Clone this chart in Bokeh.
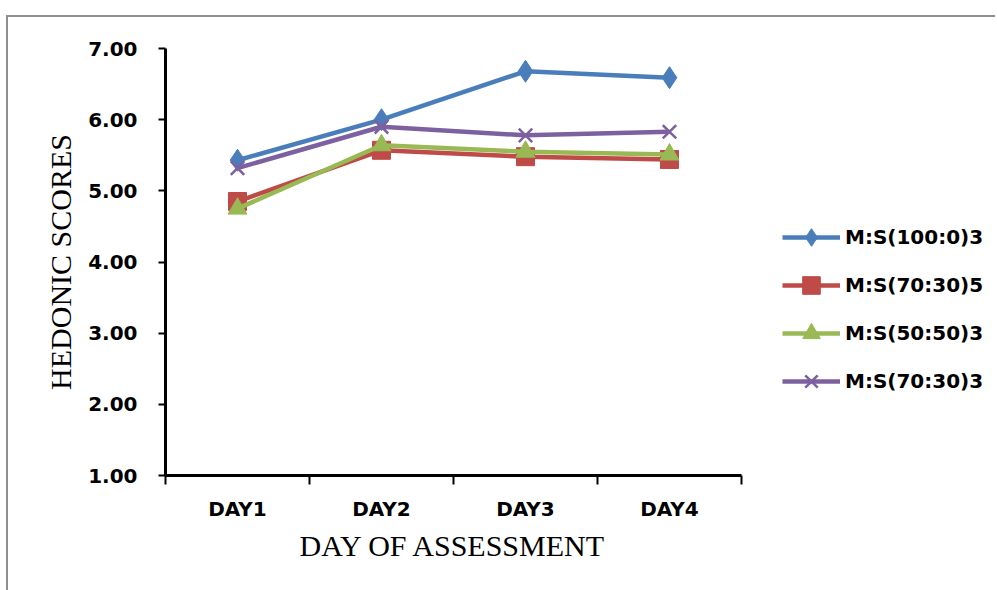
from bokeh.plotting import figure
from bokeh.models import FixedTicker, Legend, LegendItem, Range1d, ColumnDataSource, Title
from bokeh.embed import file_html
from bokeh.resources import INLINE

# Hedonic scores per day of assessment
days = ["DAY1", "DAY2", "DAY3", "DAY4"]
series_names = ["M:S(100:0)3", "M:S(70:30)5", "M:S(50:50)3", "M:S(70:30)3"]
ms_100_0_3 = [5.43, 6.00, 6.68, 6.59]
ms_70_30_5 = [4.85, 5.57, 5.48, 5.44]
ms_50_50_3 = [4.75, 5.64, 5.55, 5.51]
ms_70_30_3 = [5.32, 5.90, 5.78, 5.83]
y_ticks = [1, 2, 3, 4, 5, 6, 7]
x_title = "DAY OF ASSESSMENT"
y_title = "HEDONIC SCORES"

series_values = [ms_100_0_3, ms_70_30_5, ms_50_50_3, ms_70_30_3]
colors = ["#4a7ebb", "#be4b48", "#98b954", "#7d60a0"]
markers = ["diamond", "square", "triangle", "x"]
sizes = [22, 18, 19, 19]

# category centres sit at 0.5, 1.5, ... so that ticks fall on the boundaries
n = len(days)
x_pos = [i + 0.5 for i in range(n)]

# the frame runs to the right edge so the legend can sit inside it;
# the axis itself is bounded to the category span
fig_w, fig_h = 989, 575
left_pad = 157
axis_px = 576                      # on-screen length of the category axis
frame_px = fig_w - left_pad
x_end = n * frame_px / axis_px

p = figure(width=fig_w, height=fig_h, output_backend="svg", toolbar_location=None,
           x_range=Range1d(0, x_end), y_range=Range1d(1, 7),
           min_border_left=left_pad, min_border_right=0,
           min_border_top=31, min_border_bottom=117)
p.margin = (15, 0, 0, 6)
p.styles = {"border-top": "2px solid #8f8f8f", "border-left": "2px solid #8f8f8f"}
p.outline_line_color = None
p.xgrid.visible = False
p.ygrid.visible = False
p.background_fill_color = "white"
p.border_fill_color = "white"

items = []
for name, vals, col, mk, sz in zip(series_names, series_values, colors, markers, sizes):
    src = ColumnDataSource(dict(x=x_pos, y=vals))
    ln = p.line("x", "y", source=src, line_color=col, line_width=4.5)
    if mk == "x":
        sc = p.scatter("x", "y", source=src, marker=mk, size=sz, line_color=col, line_width=2.5)
    else:
        sc = p.scatter("x", "y", source=src, marker=mk, size=sz, fill_color=col, line_color=col)
    items.append(LegendItem(label=name, renderers=[ln, sc]))

tick_font = "DejaVu Sans"
title_font = "Liberation Serif"

# x axis: labels at category centres, tick marks on category boundaries
xa = p.xaxis[0]
xa.bounds = (0, n)
xa.ticker = FixedTicker(ticks=x_pos, minor_ticks=list(range(n + 1)))
xa.major_label_overrides = {x: d for x, d in zip(x_pos, days)}
xa.major_tick_line_color = None
xa.minor_tick_line_color = "black"
xa.minor_tick_line_width = 2
xa.minor_tick_out = 9
xa.minor_tick_in = 0
xa.major_label_standoff = 12
xa.major_label_text_font = tick_font
xa.major_label_text_font_style = "bold"
xa.major_label_text_font_size = "20px"
xa.major_label_text_color = "black"
xa.axis_line_width = 3
xa.axis_line_color = "black"

# x title centred under the bounded axis rather than the whole frame
xt = Title(text=x_title, align="left", offset=axis_px / 2 - 154,
           text_font=title_font, text_font_style="normal",
           text_font_size="30px", text_color="black", standoff=6)
p.add_layout(xt, "below")

ya = p.yaxis[0]
ya.ticker = FixedTicker(ticks=y_ticks)
ya.major_label_overrides = {v: f"{v:.2f}" for v in y_ticks}
ya.minor_tick_line_color = None
ya.major_tick_line_color = "black"
ya.major_tick_line_width = 2
ya.major_tick_out = 7
ya.major_tick_in = 0
ya.major_label_standoff = 21
ya.major_label_text_font = tick_font
ya.major_label_text_font_style = "bold"
ya.major_label_text_font_size = "20px"
ya.major_label_text_color = "black"
ya.axis_line_width = 3
ya.axis_line_color = "black"
ya.axis_label = y_title
ya.axis_label_text_font = title_font
ya.axis_label_text_font_style = "normal"
ya.axis_label_text_font_size = "30px"
ya.axis_label_text_color = "black"
ya.axis_label_standoff = 8

legend = Legend(items=items, location=(617, 72), orientation="vertical",
                glyph_width=58, glyph_height=44, label_height=20, spacing=4,
                padding=0, margin=0, label_standoff=5,
                label_text_font=tick_font, label_text_font_style="bold",
                label_text_font_size="20px", label_text_color="black",
                border_line_color=None, background_fill_alpha=0)
p.add_layout(legend, "center")

open("out.html", "w").write(file_html(p, INLINE))
